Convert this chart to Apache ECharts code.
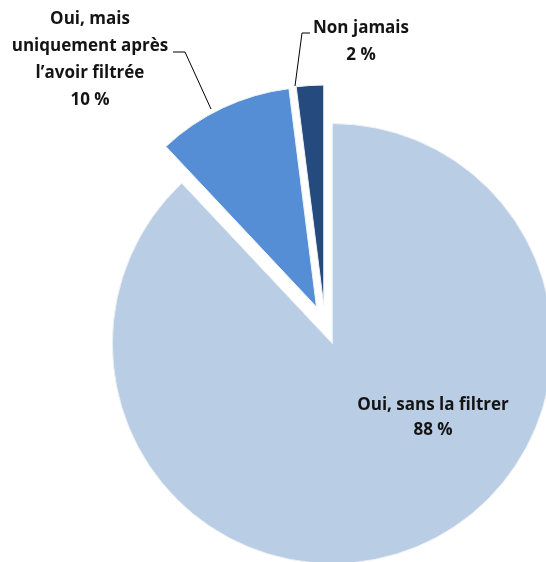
<!DOCTYPE html>
<html><head><meta charset="utf-8">
<script src="https://cdn.jsdelivr.net/npm/echarts@6/dist/echarts.min.js"></script>
<style>html,body{margin:0;padding:0;background:#fff}#c{width:546px;height:562px}</style>
</head><body><div id="c"></div>
<script>
const categories = ['Oui, sans la filtrer', 'Oui, mais\nuniquement après\nl\u2019avoir filtrée', 'Non jamais'];
const values = [88, 10, 2];
const valueLabels = ['88 %', '10 %', '2 %'];
const colors = ['#B9CDE5', '#558ED5', '#244A7E'];

// layout
const CX = 325, CY = 325, R = 220, OFF = 20;
const labelPos = [
  {x: 433, y: 418, lh: 25},
  {x: 90, y: 60, lh: 27},
  {x: 361, y: 42, lh: 27}
];
const linePts = [
  null,
  [[211, 109], [185, 52], [173, 52]],
  [[295, 86], [302, 33], [310, 33]]
];

// exploded centres derived from the data (each slice pushed out along its mid-angle)
const total = values.reduce((a, b) => a + b, 0);
let acc = 0;
const centers = values.map(v => {
  const mid = (acc + v / 2) / total * 2 * Math.PI; // clockwise from top
  acc += v;
  return [CX + OFF * Math.sin(mid), CY - OFF * Math.cos(mid)];
});

const border = '#eef1f5';
const chart = echarts.init(document.getElementById('c'));
chart.setOption({
  animation: false,
  series: values.map((_, si) => ({
    type: 'pie',
    center: centers[si],
    radius: R,
    startAngle: 90,
    clockwise: true,
    avoidLabelOverlap: false,
    emphasis: { disabled: true },
    silent: true,
    label: {
      fontFamily: 'Open Sans', fontWeight: 'bold', fontSize: 17, color: '#141414'
    },
    labelLine: { lineStyle: { color: '#000', width: 1 }, length: 20, length2: 10 },
    labelLayout: function (p) {
      const lp = labelPos[p.dataIndex];
      const o = { x: lp.x, y: lp.y, align: 'center', verticalAlign: 'middle' };
      if (linePts[p.dataIndex]) o.labelLinePoints = linePts[p.dataIndex];
      return o;
    },
    data: categories.map((c, i) => ({
      name: c,
      value: values[i],
      itemStyle: i === si
        ? { color: colors[i], borderColor: border, borderWidth: 1 }
        : { color: 'rgba(0,0,0,0)', borderWidth: 0 },
      label: {
        show: i === si,
        position: i === 0 ? 'inside' : 'outside',
        formatter: c + '\n' + valueLabels[i],
        lineHeight: labelPos[i].lh,
        align: 'center'
      },
      labelLine: { show: i === si && i !== 0 }
    }))
  }))
});
</script></body></html>
